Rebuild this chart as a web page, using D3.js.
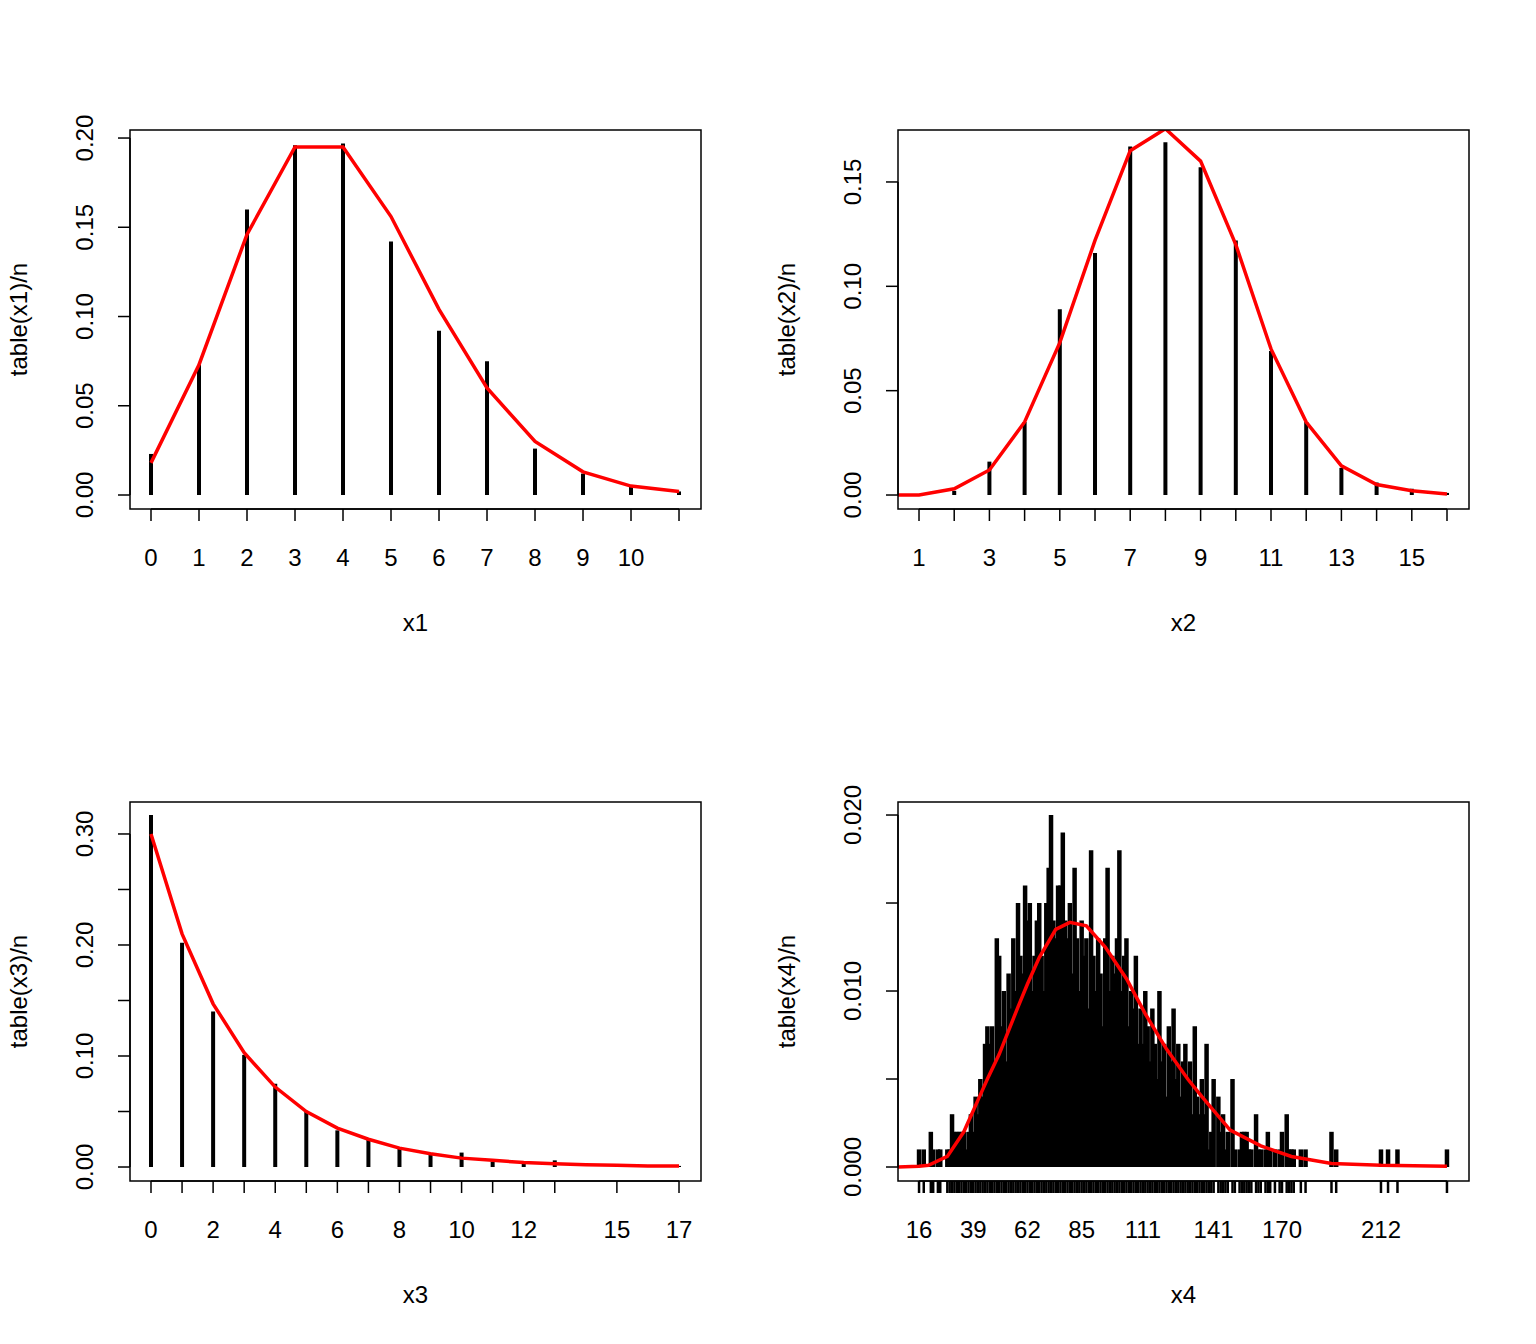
<!DOCTYPE html>
<html><head><meta charset="utf-8">
<script src="https://cdn.jsdelivr.net/npm/d3@7"></script>
<style>body{margin:0;background:#fff}text{font-family:"Liberation Sans",Arial,sans-serif;font-size:24px;fill:#000}</style>
</head><body>
<svg id="chart" width="1536" height="1344"></svg>
<script>
var n = 1000;

// panel 1
var x1Vals = [0,1,2,3,4,5,6,7,8,9,10,11];
var x1Freq = [0.023,0.073,0.160,0.196,0.197,0.142,0.092,0.075,0.026,0.012,0.005,0.002];
var x1Fit  = [0.018,0.073,0.146,0.195,0.195,0.156,0.104,0.060,0.030,0.013,0.005,0.002];
var x1Labels = [0,1,2,3,4,5,6,7,8,9,10];

// panel 2
var x2Vals = [1,2,3,4,5,6,7,8,9,10,11,12,13,14,15,16];
var x2Freq = [0.000,0.002,0.016,0.035,0.089,0.116,0.167,0.169,0.157,0.122,0.069,0.035,0.013,0.006,0.003,0.001];
var x2FitX = [0,1,2,3,4,5,6,7,8,9,10,11,12,13,14,15,16];
var x2Fit  = [0.000,0.000,0.003,0.012,0.035,0.073,0.122,0.165,0.1755,0.160,0.120,0.070,0.035,0.014,0.005,0.002,0.0005];
var x2Labels = [1,3,5,7,9,11,13,15];

// panel 3
var x3Vals = [0,1,2,3,4,5,6,7,8,9,10,11,12,13,15,17];
var x3Freq = [0.317,0.202,0.140,0.101,0.075,0.050,0.033,0.025,0.017,0.011,0.013,0.005,0.003,0.006,0.002,0.001];
var x3FitX = [0,1,2,3,4,5,6,7,8,9,10,11,12,13,14,15,16,17];
var x3Fit  = [0.300,0.210,0.147,0.103,0.072,0.050,0.035,0.025,0.017,0.012,0.008,0.006,0.004,0.003,0.002,0.0015,0.001,0.001];
var x3Labels = [0,2,4,6,8,10,12,15,17];

// panel 4 (counts out of n)
var x4Vals = [16,18,21,22,24,25,28,29,30,31,32,33,34,35,36,37,38,39,40,41,42,43,44,45,46,47,48,49,50,
  51,52,53,54,55,56,57,58,59,60,61,62,63,64,65,66,67,68,69,70,71,72,73,74,75,76,77,78,79,80,
  81,82,83,84,85,86,87,88,89,90,91,92,93,94,95,96,97,98,99,100,101,102,103,104,105,106,107,108,109,110,
  111,112,113,114,115,116,117,118,119,120,121,122,123,124,125,126,127,128,129,130,131,132,133,134,135,136,137,138,139,140,
  141,143,144,145,146,147,149,150,152,153,154,155,156,157,159,160,161,163,164,165,167,169,170,172,173,174,175,178,180,
  191,193,212,215,219,240];
var x4Count = [1,1,2,1,1,1,1,1,3,2,2,2,2,2,1,2,3,2,4,3,5,4,7,8,7,8,6,13,12,
  8,10,6,11,9,13,10,15,12,11,16,14,15,10,12,14,15,12,10,15,17,20,14,13,16,16,19,14,13,15,
  11,17,13,10,14,12,13,9,18,12,10,13,11,8,13,17,10,12,11,13,18,10,12,13,8,10,9,12,7,9,
  7,10,8,6,9,7,5,10,6,7,4,8,6,9,5,7,4,6,7,5,6,3,8,4,3,5,3,7,1,2,
  5,4,2,3,1,2,5,1,1,2,2,2,1,1,3,1,1,1,2,1,1,1,2,3,1,1,1,1,1,
  2,1,1,1,1,1];
var x4FitX = [7,16,20,28,35,41,45,50,58,62,67,74,80,87,95,104,112,121,130,136,148,161,174,191,212,240];
var x4Fit  = [0,0.00005,0.0001,0.0006,0.002,0.0038,0.0050,0.0064,0.0091,0.0104,0.0119,0.0135,0.0139,0.0137,0.0125,0.0107,0.0087,0.0067,0.0050,0.0040,0.0021,0.0012,0.0006,0.0002,0.0001,0.00005];
var x4Labels = [16,39,62,85,111,141,170,212];

var svg = d3.select("#chart");
var panels = [
  {left:130, top:130, xdom:[-0.4375,11.458], ydom:[-0.00784,0.2045], xs:x1Vals, ys:x1Freq, fx:x1Vals, fy:x1Fit,
   xticks:x1Vals, xlabels:x1Labels, yticks:[0,0.05,0.10,0.15,0.20], ylabels:[0,0.05,0.10,0.15,0.20], yfmt:".2f", xname:"x1", yname:"table(x1)/n", lw:4},
  {left:898, top:130, xdom:[0.403,16.625], ydom:[-0.0067,0.1749], xs:x2Vals, ys:x2Freq, fx:x2FitX, fy:x2Fit,
   xticks:x2Vals, xlabels:x2Labels, yticks:[0,0.05,0.10,0.15], ylabels:[0,0.05,0.10,0.15], yfmt:".2f", xname:"x2", yname:"table(x2)/n", lw:4},
  {left:130, top:802, xdom:[-0.676,17.708], ydom:[-0.0126,0.3288], xs:x3Vals, ys:x3Freq, fx:x3FitX, fy:x3Fit,
   xticks:x3Vals, xlabels:x3Labels, yticks:[0,0.05,0.10,0.15,0.20,0.25,0.30], ylabels:[0,0.10,0.20,0.30], yfmt:".2f", xname:"x3", yname:"table(x3)/n", lw:4},
  {left:898, top:802, xdom:[7.07,249.35], ydom:[-0.000795,0.02074], xs:x4Vals, ys:x4Count.map(c => c / n), fx:x4FitX, fy:x4Fit,
   xticks:x4Vals, xlabels:x4Labels, yticks:[0,0.005,0.010,0.015,0.020], ylabels:[0,0.010,0.020], yfmt:".3f", xname:"x4", yname:"table(x4)/n", lw:4.5}
];
var W = 571, H = 379;

panels.forEach(function(p, k) {
  var g = svg.append("g").attr("transform", `translate(${p.left},${p.top})`);
  var x = d3.scaleLinear().domain(p.xdom).range([0, W]);
  var y = d3.scaleLinear().domain(p.ydom).range([H, 0]);

  g.append("clipPath").attr("id", "clip" + k).append("rect").attr("width", W).attr("height", H);

  // bars
  g.selectAll(".bar").data(p.xs).enter().append("line")
    .attr("x1", d => x(d)).attr("x2", d => x(d))
    .attr("y1", y(0)).attr("y2", (d, i) => y(p.ys[i]))
    .attr("stroke", "#000").attr("stroke-width", p.lw);

  // fitted line
  var line = d3.line().x(d => x(d[0])).y(d => y(d[1]));
  g.append("path").datum(p.fx.map((v, i) => [v, p.fy[i]]))
    .attr("d", line).attr("fill", "none").attr("stroke", "#ff0000")
    .attr("stroke-width", 3.5).attr("clip-path", `url(#clip${k})`);

  g.append("rect").attr("width", W).attr("height", H).attr("fill", "none").attr("stroke", "#000").attr("stroke-width", 1.5);

  // x axis
  var xa = g.append("g").attr("transform", `translate(0,${H})`);
  xa.append("line").attr("x1", x(d3.min(p.xticks))).attr("x2", x(d3.max(p.xticks)))
    .attr("y1", 0).attr("y2", 0).attr("stroke", "#000").attr("stroke-width", 1.5);
  xa.selectAll(".t").data(p.xticks).enter().append("line")
    .attr("x1", d => x(d)).attr("x2", d => x(d)).attr("y1", 0).attr("y2", 12)
    .attr("stroke", "#000").attr("stroke-width", k === 3 ? 2.5 : 1.5);
  xa.selectAll(".l").data(p.xlabels).enter().append("text")
    .attr("x", d => x(d)).attr("y", 57).attr("text-anchor", "middle").text(d => d);
  g.append("text").attr("x", W / 2).attr("y", H + 122).attr("text-anchor", "middle").text(p.xname);

  // y axis
  var ya = g.append("g");
  ya.append("line").attr("x1", 0).attr("x2", 0)
    .attr("y1", y(d3.min(p.yticks))).attr("y2", y(d3.max(p.yticks))).attr("stroke", "#000").attr("stroke-width", 1.5);
  ya.selectAll(".t").data(p.yticks).enter().append("line")
    .attr("x1", -12).attr("x2", 0).attr("y1", d => y(d)).attr("y2", d => y(d))
    .attr("stroke", "#000").attr("stroke-width", 1.5);
  ya.selectAll(".l").data(p.ylabels).enter().append("text")
    .attr("transform", d => `translate(-37,${y(d)}) rotate(-90)`)
    .attr("text-anchor", "middle").text(d => d3.format(p.yfmt)(d));
  g.append("text").attr("transform", `translate(-103,${H / 2}) rotate(-90)`)
    .attr("text-anchor", "middle").text(p.yname);
});
</script>
</body></html>
